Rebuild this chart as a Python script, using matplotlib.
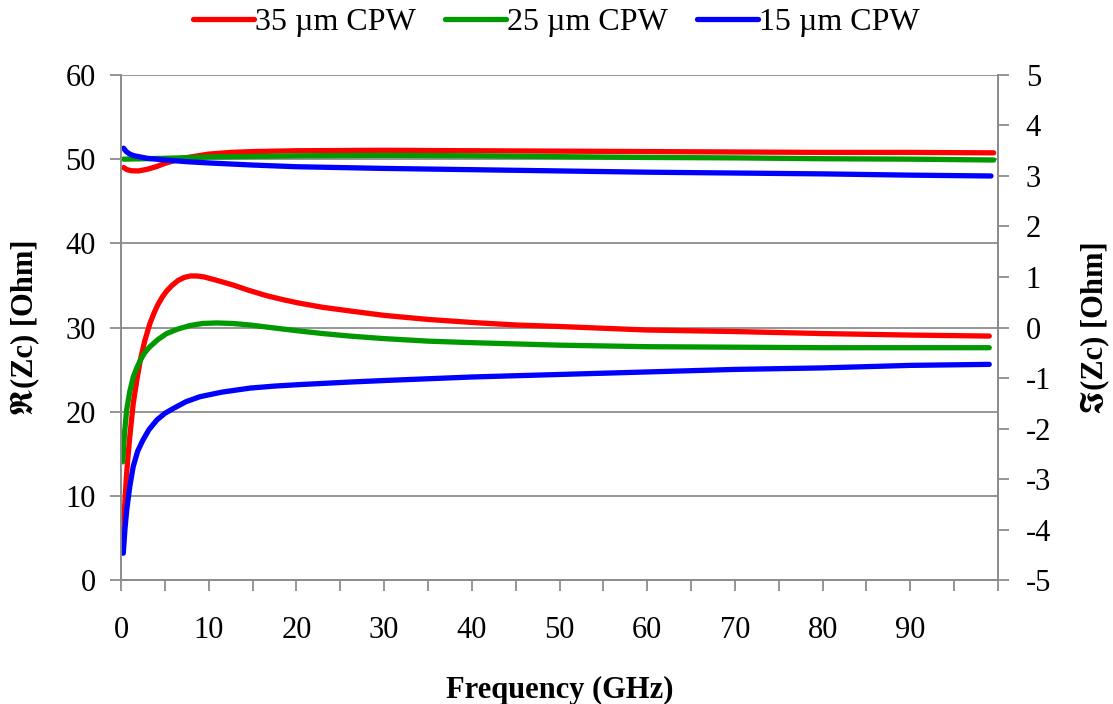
import numpy as np
import matplotlib.pyplot as plt
from matplotlib.ticker import MultipleLocator

plt.rcParams['font.family'] = ['Liberation Serif', 'STIXGeneral', 'DejaVu Sans']
plt.rcParams['axes.unicode_minus'] = False

# Real part of Zc (left axis), Ohm
re_freq_35 = [0.3, 0.7, 1.2, 2, 3, 4, 5, 6, 7, 8.5, 10, 12.5, 15, 20, 30, 40, 50,
              60, 70, 80, 90, 99.5]
re_35 = [49.0, 48.75, 48.62, 48.6, 48.8, 49.1, 49.5, 49.8, 50.1, 50.35, 50.6, 50.8,
         50.9, 51.0, 51.05, 51.0, 50.95, 50.9, 50.85, 50.8, 50.8, 50.75]
re_freq_25 = [0.3, 5, 10, 20, 30, 40, 50, 60, 70, 80, 90, 99.5]
re_25 = [50.0, 50.1, 50.25, 50.4, 50.45, 50.4, 50.3, 50.2, 50.15, 50.05, 50.0, 49.9]
re_freq_15 = [0.3, 0.6, 1, 1.5, 2, 3, 5, 7.5, 10, 15, 20, 30, 40, 50, 60, 70, 80,
              90, 99.2]
re_15 = [51.3, 50.9, 50.6, 50.4, 50.3, 50.1, 49.9, 49.7, 49.55, 49.3, 49.1, 48.9,
         48.75, 48.6, 48.45, 48.35, 48.25, 48.1, 48.0]

# Imaginary part of Zc (right axis), Ohm
im_freq_35 = [0.2, 0.4, 0.6, 0.8, 1.0, 1.2, 1.4, 1.8, 2.2, 2.7, 3.3, 3.8, 4.2, 4.7,
              5.2, 5.8, 6.5, 7.2, 7.9, 8.7, 9.5, 11, 12.8, 14.5, 16.6, 18.5, 20.4,
              23, 26, 30, 35, 40, 45, 50, 60, 70, 80, 90, 99]
im_35 = [-4.3, -3.6, -3.0, -2.55, -2.17, -1.83, -1.5, -1.05, -0.65, -0.27, 0.08,
         0.3, 0.45, 0.6, 0.72, 0.83, 0.93, 0.99, 1.02, 1.02, 1.0, 0.93, 0.84, 0.74,
         0.63, 0.55, 0.48, 0.4, 0.33, 0.24, 0.16, 0.1, 0.05, 0.02, -0.05, -0.08,
         -0.12, -0.15, -0.17]
im_freq_25 = [0.2, 0.4, 0.65, 1.0, 1.4, 1.8, 2.2, 2.7, 3.3, 4.2, 5.2, 6.5, 7.9, 9.3,
              10.9, 12.7, 14.7, 17.5, 20.4, 23, 26.1, 30, 35, 40, 50, 60, 70, 80,
              90, 99]
im_25 = [-2.66, -2.1, -1.63, -1.27, -0.98, -0.8, -0.65, -0.5, -0.38, -0.24, -0.12,
         -0.03, 0.04, 0.08, 0.09, 0.08, 0.05, -0.01, -0.07, -0.12, -0.17, -0.22,
         -0.27, -0.3, -0.35, -0.38, -0.39, -0.4, -0.4, -0.4]
im_freq_15 = [0.26, 0.45, 0.65, 1.0, 1.4, 1.9, 2.5, 3.2, 4.1, 5.0, 6.0, 7.4, 9.0,
              11.5, 14.7, 17.5, 20.4, 26.1, 30, 40, 50, 60, 70, 80, 90, 99]
im_15 = [-4.47, -4.0, -3.62, -3.15, -2.75, -2.45, -2.23, -2.02, -1.83, -1.7, -1.6,
         -1.47, -1.37, -1.28, -1.2, -1.16, -1.13, -1.08, -1.05, -0.98, -0.93,
         -0.88, -0.83, -0.8, -0.75, -0.73]

labels = ['35 \u00b5m CPW', '25 \u00b5m CPW', '15 \u00b5m CPW']
colors = ['#ff0000', '#009900', '#0000ff']
grey = '#8c8c8c'
fs = 22

fig = plt.figure(figsize=(11.13, 7.04), dpi=100)
ax = fig.add_axes([0.1087, 0.1761, 0.7880, 0.7174])
ax2 = ax.twinx()

kw = dict(lw=3.8, solid_capstyle='round', solid_joinstyle='round')
ax.plot(re_freq_35, re_35, color=colors[0], **kw)
ax.plot(re_freq_25, re_25, color=colors[1], **kw)
ax.plot(re_freq_15, re_15, color=colors[2], **kw)
ax2.plot(im_freq_35, im_35, color=colors[0], label=labels[0], **kw)
ax2.plot(im_freq_25, im_25, color=colors[1], label=labels[1], **kw)
ax2.plot(im_freq_15, im_15, color=colors[2], label=labels[2], **kw)

ax.set_xlim(0, 100)
ax.set_ylim(0, 60)
ax2.set_ylim(-5, 5)

ax.set_xticks(np.arange(0, 91, 10))
ax.xaxis.set_minor_locator(MultipleLocator(5))
ax.yaxis.set_major_locator(MultipleLocator(10))
ax2.yaxis.set_major_locator(MultipleLocator(1))

ax.grid(axis='y', color=grey, lw=1.3)
ax.set_axisbelow(True)

for a in (ax, ax2):
    a.spines['top'].set_visible(False)
    for side in ('left', 'right', 'bottom'):
        a.spines[side].set_color(grey)
        a.spines[side].set_linewidth(1.3)
    a.tick_params(which='both', direction='out', length=8, width=1.3,
                  color=grey, labelsize=fs)
ax.tick_params(axis='x', which='both', pad=18)
ax.tick_params(axis='y', pad=10)
ax2.tick_params(axis='y', pad=12)

ax.set_xlabel('Frequency (GHz)', fontsize=fs, fontweight='bold', labelpad=22)
ax.set_ylabel('\u211c(Zc) [Ohm]', fontsize=fs, fontweight='bold', labelpad=19)
ax2.set_ylabel('\u2111(Zc) [Ohm]', fontsize=fs, fontweight='bold', labelpad=21)

fig.legend(loc='upper center', bbox_to_anchor=(0.5, 1.03), ncol=3, frameon=False,
           fontsize=23, handlelength=1.9, handletextpad=0.05, columnspacing=0.9)

fig.savefig('out.png', dpi=100)
